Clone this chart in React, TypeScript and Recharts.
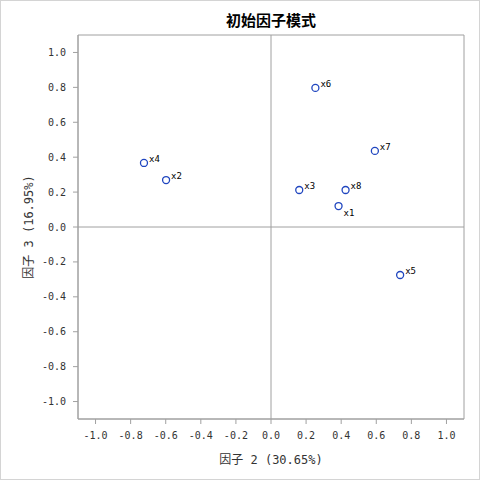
import { ScatterChart, Scatter, XAxis, YAxis, ReferenceLine, ReferenceArea, LabelList, Label } from 'recharts';

const names = ['x1', 'x2', 'x3', 'x4', 'x5', 'x6', 'x7', 'x8'];
const factor2 = [0.385, -0.598, 0.161, -0.724, 0.736, 0.253, 0.592, 0.425];
const factor3 = [0.12, 0.269, 0.212, 0.367, -0.275, 0.797, 0.436, 0.212];
const ticks = [-1.0, -0.8, -0.6, -0.4, -0.2, 0.0, 0.2, 0.4, 0.6, 0.8, 1.0];

const points = names.map((name, i) => ({ name, x: factor2[i], y: factor3[i] }));

const mono = "'DejaVu Sans Mono', 'Noto Sans CJK SC', monospace";
const frame = '#a0a0a0';
const blue = '#1f45bf';

function PointLabel(props: any) {
  const { x, y, width, value } = props;
  const cx = x + width / 2;
  const cy = y + width / 2;
  const below = value === 'x1';
  return (
    <text x={cx + 5} y={below ? cy + 10 : cy - 1} fontSize={9} fontFamily={mono} fill="#000">
      {value}
    </text>
  );
}

export default function App() {
  return (
    <div
      style={{
        position: 'absolute',
        left: 0,
        top: 0,
        width: 480,
        height: 480,
        border: '1px solid #d4d4d4',
        boxSizing: 'border-box',
        background: '#fff',
      }}
    >
      <div
        style={{
          position: 'absolute',
          left: 77,
          width: 386,
          top: 10,
          textAlign: 'center',
          fontFamily: "'Noto Sans CJK SC', sans-serif",
          fontWeight: 'bold',
          fontSize: 15,
          lineHeight: '18px',
          color: '#000',
        }}
      >
        初始因子模式
      </div>
      <ScatterChart width={478} height={478} margin={{ top: 34, right: 15, bottom: 20, left: 17 }}>
        <XAxis
          type="number"
          dataKey="x"
          domain={[-1.1, 1.1]}
          ticks={ticks}
          tickFormatter={(v: number) => v.toFixed(1)}
          height={40}
          stroke={frame}
          tickSize={5}
          tickMargin={8}
          tick={{ fontSize: 10, fontFamily: mono, fill: '#333' }}
          allowDataOverflow
        >
          <Label
            content={({ viewBox }: any) => (
              <text
                x={viewBox.x + viewBox.width / 2}
                y={viewBox.y + 45}
                textAnchor="middle"
                fontSize={12}
                fontFamily={mono}
                fill="#333"
              >
                因子 2 (30.65%)
              </text>
            )}
          />
        </XAxis>
        <YAxis
          type="number"
          dataKey="y"
          domain={[-1.1, 1.1]}
          ticks={ticks}
          tickFormatter={(v: number) => v.toFixed(1)}
          width={60}
          stroke={frame}
          tickSize={5}
          tickMargin={7}
          tick={{ fontSize: 10, fontFamily: mono, fill: '#333' }}
          allowDataOverflow
        >
          <Label
            content={({ viewBox }: any) => {
              const cx = viewBox.x + 11;
              const cy = viewBox.y + viewBox.height / 2;
              return (
                <text
                  x={cx}
                  y={cy}
                  transform={`rotate(-90 ${cx} ${cy})`}
                  textAnchor="middle"
                  dominantBaseline="central"
                  fontSize={12}
                  fontFamily={mono}
                  fill="#333"
                >
                  因子 3 (16.95%)
                </text>
              );
            }}
          />
        </YAxis>
        <ReferenceArea x1={-1.1} x2={1.1} y1={-1.1} y2={1.1} fill="none" stroke={frame} strokeWidth={1} />
        <ReferenceLine x={0} stroke={frame} />
        <ReferenceLine y={0} stroke={frame} />
        <Scatter
          data={points}
          isAnimationActive={false}
          shape={(p: any) => <circle cx={p.cx} cy={p.cy} r={3.5} fill="#fff" stroke={blue} strokeWidth={1.3} />}
        >
          <LabelList dataKey="name" content={PointLabel} />
        </Scatter>
      </ScatterChart>
    </div>
  );
}
